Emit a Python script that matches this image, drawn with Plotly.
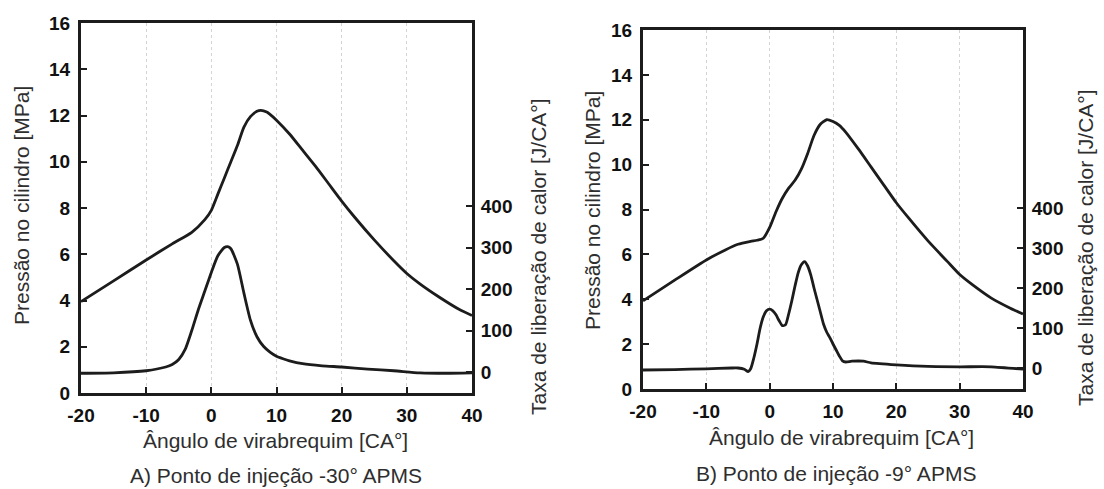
import plotly.graph_objects as go

# ---------------- data ----------------
# Panel A: injection point -30° APMS
crank_a_p = [-20, -15, -10, -6, -3, -1, 0, 1, 2, 3, 4, 5, 6, 7, 7.6, 8.5, 9, 10, 12, 14, 16, 18, 20, 22, 25, 28, 30, 32, 35, 38, 40]
press_a = [3.95, 4.85, 5.75, 6.45, 6.95, 7.5, 7.9, 8.6, 9.3, 10.0, 10.7, 11.5, 11.95, 12.18, 12.22, 12.15, 12.05, 11.8, 11.2, 10.5, 9.8, 9.05, 8.3, 7.6, 6.62, 5.72, 5.17, 4.72, 4.14, 3.62, 3.35]

crank_a_h = [-20, -15, -10, -7, -6, -5, -4, -3, -2, -1, 0, 1, 2, 2.5, 3, 4, 5, 6, 7, 8, 9, 10, 11, 12, 14, 17, 20, 24, 28, 32, 36, 40]
heat_a = [-3, -2, 3, 12, 18, 30, 55, 100, 150, 195, 240, 280, 300, 302, 297, 260, 190, 125, 85, 62, 48, 38, 32, 27, 20, 15, 12, 7, 3, -2, -3, -2]

# Panel B: injection point -9° APMS
crank_b_p = [-20, -15, -10, -7, -5, -3, -2, -1, 0, 1, 2, 3, 4, 5, 6, 7, 8, 9, 10, 11, 12, 14, 16, 18, 20, 22, 25, 28, 30, 32, 35, 38, 40]
press_b = [3.93, 4.85, 5.75, 6.2, 6.45, 6.58, 6.63, 6.72, 7.2, 7.9, 8.5, 8.95, 9.3, 9.8, 10.5, 11.3, 11.8, 12.0, 11.92, 11.75, 11.45, 10.7, 9.9, 9.1, 8.3, 7.6, 6.6, 5.7, 5.1, 4.65, 4.05, 3.6, 3.34]

crank_b_h = [-20, -15, -10, -6, -5, -4, -3.4, -3, -2.5, -2, -1.5, -1, -0.5, 0, 0.5, 1, 1.5, 2, 2.5, 3, 3.5, 4, 4.5, 5, 5.5, 6, 6.5, 7, 7.5, 8, 8.5, 9, 9.5, 10, 10.5, 11, 11.5, 12, 13, 14.8, 16, 20, 25, 30, 35, 40]
heat_b = [-5, -4, -2, 0, 0, -3, -9, -2, 25, 60, 100, 128, 143, 147, 143, 133, 118, 106, 108, 135, 168, 205, 238, 258, 266, 255, 232, 200, 170, 140, 110, 90, 76, 60, 45, 30, 18, 15, 17, 17, 13, 8, 4, 3, 3, -3]

x_ticks = [-20, -10, 0, 10, 20, 30, 40]
x_ticklabels = ["-20", "-10", "0", "10", "20", "30", "40"]
p_ticks = [0, 2, 4, 6, 8, 10, 12, 14, 16]
h_ticks = [0, 100, 200, 300, 400]

x_title = "Ângulo de virabrequim [CA°]"
p_title = "Pressão no cilindro [MPa]"
h_title = "Taxa de liberação de calor [J/CA°]"
captions = ["A) Ponto de injeção -30° APMS", "B) Ponto de injeção -9° APMS"]

# ---------------- layout geometry ----------------
W, H = 1104, 489
FONT = "Liberation Sans, Arial, sans-serif"
LINE = "#1c1c1c"


def px(x):
    return x / W


def py(y):
    return 1 - y / H


def bold(labels):
    return ["<b>%s</b>" % s for s in labels]


panels = [
    dict(x0=81, x1=472, y0=393, y1=23, hr=[-50.6, 841],
         ylab=(22, 206), hlab=(538, 257), xlab=(275, 440), cap=(276, 475)),
    dict(x0=643, x1=1023, y0=389, y1=30, hr=[-52.5, 845],
         ylab=(592, 211), hlab=(1085, 248), xlab=(842, 437), cap=(836, 473)),
]

fig = go.Figure()
series = [(crank_a_p, press_a, crank_a_h, heat_a), (crank_b_p, press_b, crank_b_h, heat_b)]

annotations = []
for i, (pan, (xp, yp, xh, yh)) in enumerate(zip(panels, series)):
    xa = "x" if i == 0 else "x2"
    ya = "y" if i == 0 else "y3"
    ha = "y2" if i == 0 else "y4"
    fig.add_trace(go.Scatter(x=xp, y=yp, xaxis=xa, yaxis=ya, mode="lines",
                             line=dict(color=LINE, width=2.8, shape="spline", smoothing=0.6),
                             showlegend=False, hoverinfo="skip"))
    fig.add_trace(go.Scatter(x=xh, y=yh, xaxis=xa, yaxis=ha, mode="lines",
                             line=dict(color=LINE, width=2.8, shape="spline", smoothing=0.6),
                             showlegend=False, hoverinfo="skip"))

    xkey = "xaxis" if i == 0 else "xaxis2"
    ykey = "yaxis" if i == 0 else "yaxis3"
    hkey = "yaxis2" if i == 0 else "yaxis4"
    tickfont = dict(family=FONT, size=19, color="#111111")
    fig.layout[xkey] = dict(
        domain=[px(pan["x0"]), px(pan["x1"])], anchor=ya, automargin=False,
        range=[-20, 40], tickvals=x_ticks, ticktext=bold(x_ticklabels),
        ticks="inside", ticklen=6, tickwidth=2,
        tickcolor=LINE, showline=True, linewidth=3, linecolor=LINE, mirror=True,
        showgrid=True, gridcolor="#d4d4d4", griddash="dot", gridwidth=1,
        zeroline=False, tickfont=tickfont, ticklabelstandoff=3,
    )
    fig.layout[ykey] = dict(
        domain=[py(pan["y0"]), py(pan["y1"])], anchor=xa, automargin=False,
        range=[0, 16], tickvals=p_ticks, ticktext=bold([str(v) for v in p_ticks]),
        ticks="inside", ticklen=6, tickwidth=2,
        tickcolor=LINE, showline=True, linewidth=3, linecolor=LINE,
        showgrid=False, zeroline=False, tickfont=tickfont, ticklabelstandoff=4,
    )
    fig.layout[hkey] = dict(
        overlaying=ya, side="right", anchor=xa, automargin=False,
        range=pan["hr"], tickvals=h_ticks, ticktext=bold([str(v) for v in h_ticks]),
        ticks="inside", ticklen=6, tickwidth=2,
        tickcolor=LINE, showline=True, linewidth=3, linecolor=LINE,
        showgrid=False, zeroline=False, tickfont=tickfont, ticklabelstandoff=2,
    )

    tf = dict(family=FONT, size=21, color="#2e2e2e")
    annotations += [
        dict(text=p_title, x=px(pan["ylab"][0]), y=py(pan["ylab"][1]), textangle=-90, font=tf),
        dict(text=h_title, x=px(pan["hlab"][0]), y=py(pan["hlab"][1]), textangle=-90, font=tf),
        dict(text=x_title, x=px(pan["xlab"][0]), y=py(pan["xlab"][1]), font=tf),
        dict(text=captions[i], x=px(pan["cap"][0]), y=py(pan["cap"][1]), font=tf),
    ]

for a in annotations:
    a.update(xref="paper", yref="paper", showarrow=False, xanchor="center", yanchor="middle")

fig.update_layout(
    width=W, height=H, margin=dict(l=0, r=0, t=0, b=0, autoexpand=False),
    paper_bgcolor="white", plot_bgcolor="white",
    annotations=annotations,
    font=dict(family=FONT),
)

fig.write_html("out.html")
